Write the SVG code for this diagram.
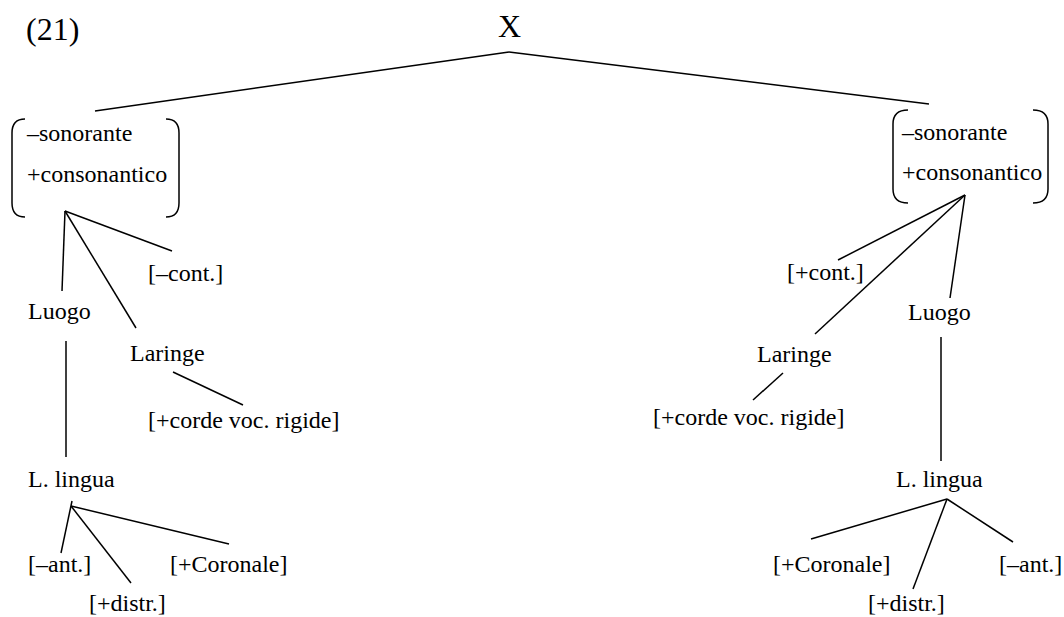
<svg xmlns="http://www.w3.org/2000/svg" width="1064" height="617" viewBox="0 0 1064 617">
<style>
text{font-family:'Liberation Serif','Times New Roman',Times,'DejaVu Serif',serif;font-size:24px;fill:#000}
.big{font-size:32px}
.ln{stroke:#000;stroke-width:1.5;fill:none}
</style>
<rect width="1064" height="617" fill="#fff"/>
<g font-family="Liberation Serif, Times New Roman, serif">
<g id="label21"><text class="big" x="26" y="40">(21)</text></g>
<g id="nodeX"><text class="big" x="498" y="37">X</text></g>
<g id="leftSeg">
<path class="ln" d="M25,119 Q12,119 12,133 L12,203 Q12,217 25,217"/>
<path class="ln" d="M166,119 Q179,119 179,133 L179,203 Q179,217 166,217"/>
<text x="27" y="141">–sonorante</text>
<text x="27" y="182">+consonantico</text>
</g>
<g id="leftCont"><text x="148" y="281">[–cont.]</text></g>
<g id="leftLuogo"><text x="28" y="319">Luogo</text></g>
<g id="leftLaringe"><text x="130" y="361">Laringe</text></g>
<g id="leftCorde"><text x="148" y="428">[+corde voc. rigide]</text></g>
<g id="leftLingua"><text x="28" y="487">L. lingua</text></g>
<g id="leftAnt"><text x="28" y="572">[–ant.]</text></g>
<g id="leftCoronale"><text x="170" y="572">[+Coronale]</text></g>
<g id="leftDistr"><text x="89" y="611">[+distr.]</text></g>
<g id="rightSeg">
<path class="ln" d="M908,110 Q893,110 893,124 L893,189 Q893,203 908,203"/>
<path class="ln" d="M1033,110 Q1048,110 1048,124 L1048,189 Q1048,203 1033,203"/>
<text x="902" y="140">–sonorante</text>
<text x="902" y="180">+consonantico</text>
</g>
<g id="rightCont"><text x="787" y="280">[+cont.]</text></g>
<g id="rightLuogo"><text x="908" y="320">Luogo</text></g>
<g id="rightLaringe"><text x="757" y="362">Laringe</text></g>
<g id="rightCorde"><text x="653" y="425">[+corde voc. rigide]</text></g>
<g id="rightLingua"><text x="896" y="487">L. lingua</text></g>
<g id="rightCoronale"><text x="773" y="572">[+Coronale]</text></g>
<g id="rightAnt"><text x="999" y="572">[–ant.]</text></g>
<g id="rightDistr"><text x="868" y="611">[+distr.]</text></g>
</g>
<g id="connectors" class="ln">
<line class="ln" x1="509" y1="52" x2="95" y2="111"/>
<line class="ln" x1="509" y1="52" x2="929" y2="104"/>
<line class="ln" x1="65" y1="211" x2="62" y2="291"/>
<line class="ln" x1="65" y1="211" x2="136" y2="328"/>
<line class="ln" x1="65" y1="211" x2="172" y2="251"/>
<line class="ln" x1="173" y1="372" x2="243" y2="405"/>
<line class="ln" x1="66" y1="341" x2="66" y2="457"/>
<line class="ln" x1="72" y1="501" x2="61" y2="553"/>
<line class="ln" x1="71" y1="506" x2="131" y2="583"/>
<line class="ln" x1="71" y1="506" x2="229" y2="544"/>
<line class="ln" x1="965" y1="195" x2="838" y2="260"/>
<line class="ln" x1="965" y1="195" x2="815" y2="334"/>
<line class="ln" x1="965" y1="195" x2="950" y2="298"/>
<line class="ln" x1="783" y1="373" x2="753" y2="400"/>
<line class="ln" x1="941" y1="337" x2="941" y2="461"/>
<line class="ln" x1="947" y1="499" x2="811" y2="539"/>
<line class="ln" x1="947" y1="499" x2="913" y2="589"/>
<line class="ln" x1="947" y1="499" x2="1013" y2="542"/>
</g>
</svg>
